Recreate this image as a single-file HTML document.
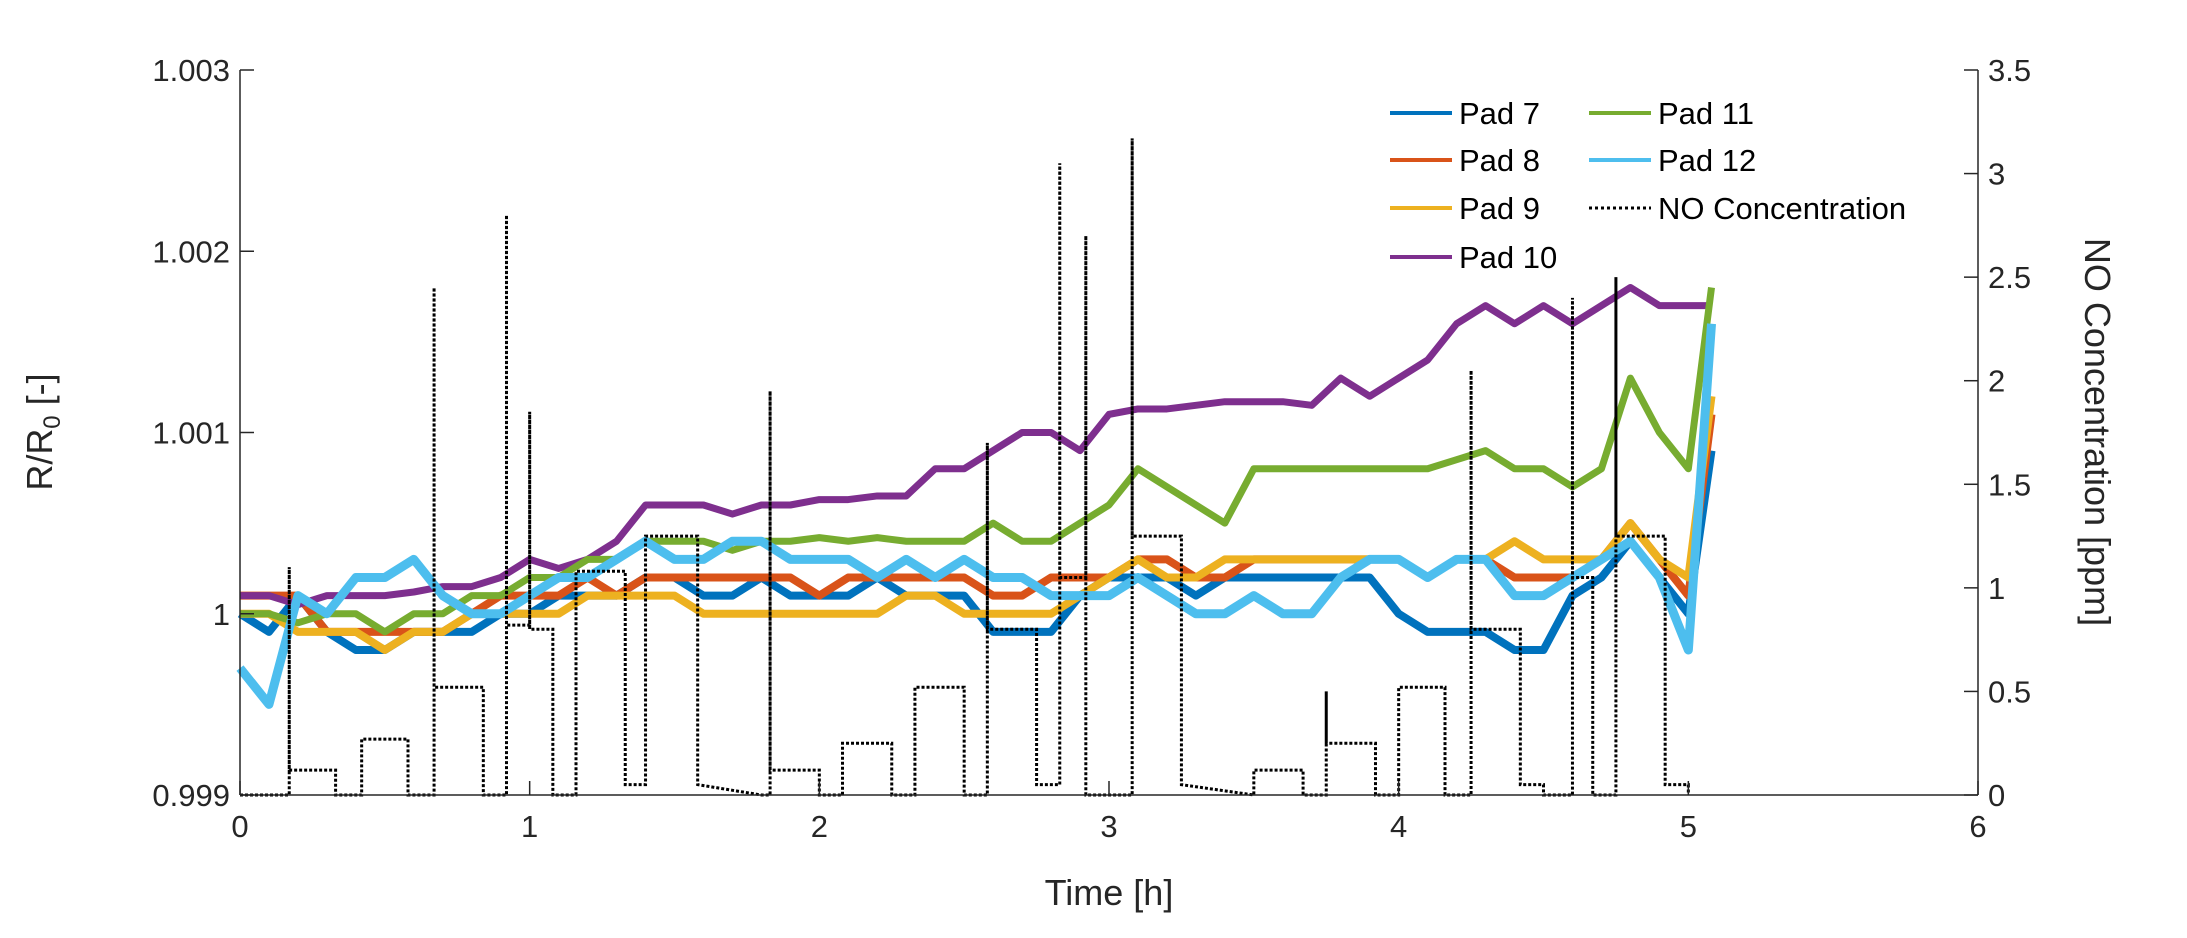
<!DOCTYPE html>
<html><head><meta charset="utf-8"><style>
body{margin:0;background:#fff;}
svg{display:block;font-family:"Liberation Sans",sans-serif;}
</style></head><body>
<svg id="chart" width="2187" height="938" xmlns="http://www.w3.org/2000/svg">
<rect width="2187" height="938" fill="#fff"/>
<g id="series"></g>
<g id="axes"></g>
<g id="legend"></g>
</svg>
<script>
const times=[0,0.1,0.2,0.3,0.4,0.5,0.6,0.7,0.8,0.9,1.0,1.1,1.2,1.3,1.4,1.5,1.6,1.7,1.8,1.9,2.0,2.1,2.2,2.3,2.4,2.5,2.6,2.7,2.8,2.9,3.0,3.1,3.2,3.3,3.4,3.5,3.6,3.7,3.8,3.9,4.0,4.1,4.2,4.3,4.4,4.5,4.6,4.7,4.8,4.9,5.0,5.08];
const pad7=[1.0,0.9999,1.0001,0.9999,0.9998,0.9998,0.9999,0.9999,0.9999,1.0,1.0,1.0001,1.0001,1.0001,1.0002,1.0002,1.0001,1.0001,1.0002,1.0001,1.0001,1.0001,1.0002,1.0001,1.0001,1.0001,0.9999,0.9999,0.9999,1.0001,1.0002,1.0002,1.0002,1.0001,1.0002,1.0002,1.0002,1.0002,1.0002,1.0002,1.0000,0.9999,0.9999,0.9999,0.9998,0.9998,1.0001,1.0002,1.0004,1.0002,1.0000,1.0009];
const pad8=[1.0001,1.0001,1.0001,0.9999,0.9999,0.9999,0.9999,0.9999,1.0,1.0001,1.0001,1.0001,1.0002,1.0001,1.0002,1.0002,1.0002,1.0002,1.0002,1.0002,1.0001,1.0002,1.0002,1.0002,1.0002,1.0002,1.0001,1.0001,1.0002,1.0002,1.0002,1.0003,1.0003,1.0002,1.0002,1.0003,1.0003,1.0003,1.0003,1.0003,1.0003,1.0002,1.0003,1.0003,1.0002,1.0002,1.0002,1.0003,1.0005,1.0003,1.0001,1.0011];
const pad9=[1.0,1.0,0.9999,0.9999,0.9999,0.9998,0.9999,0.9999,1.0,1.0,1.0,1.0,1.0001,1.0001,1.0001,1.0001,1.0,1.0,1.0,1.0,1.0,1.0,1.0,1.0001,1.0001,1.0,1.0,1.0,1.0,1.0001,1.0002,1.0003,1.0002,1.0002,1.0003,1.0003,1.0003,1.0003,1.0003,1.0003,1.0003,1.0002,1.0003,1.0003,1.0004,1.0003,1.0003,1.0003,1.0005,1.0003,1.0002,1.0012];
const pad10=[1.0001,1.0001,1.00005,1.0001,1.0001,1.0001,1.00012,1.00015,1.00015,1.0002,1.0003,1.00025,1.0003,1.0004,1.0006,1.0006,1.0006,1.00055,1.0006,1.0006,1.00063,1.00063,1.00065,1.00065,1.0008,1.0008,1.0009,1.001,1.0010,1.0009,1.0011,1.00113,1.00113,1.00115,1.00117,1.00117,1.00117,1.00115,1.0013,1.0012,1.0013,1.0014,1.0016,1.0017,1.0016,1.0017,1.0016,1.0017,1.0018,1.0017,1.0017,1.0017];
const pad11=[1.0,1.0,0.99995,1.0,1.0,0.9999,1.0,1.0,1.0001,1.0001,1.0002,1.0002,1.0003,1.0003,1.0004,1.0004,1.0004,1.00035,1.0004,1.0004,1.00042,1.0004,1.00042,1.0004,1.0004,1.0004,1.0005,1.0004,1.0004,1.0005,1.0006,1.0008,1.0007,1.0006,1.0005,1.0008,1.0008,1.0008,1.0008,1.0008,1.0008,1.0008,1.00085,1.0009,1.0008,1.0008,1.0007,1.0008,1.0013,1.001,1.0008,1.0018];
const pad12=[0.9997,0.9995,1.0001,1.0,1.0002,1.0002,1.0003,1.0001,1.0,1.0,1.0001,1.0002,1.0002,1.0003,1.0004,1.0003,1.0003,1.0004,1.0004,1.0003,1.0003,1.0003,1.0002,1.0003,1.0002,1.0003,1.0002,1.0002,1.0001,1.0001,1.0001,1.0002,1.0001,1.0,1.0,1.0001,1.0,1.0,1.0002,1.0003,1.0003,1.0002,1.0003,1.0003,1.0001,1.0001,1.0002,1.0003,1.0004,1.0002,0.9998,1.0016];
const noTimes=[0,0.17,0.17,0.17,0.33,0.33,0.42,0.42,0.58,0.58,0.67,0.67,0.67,0.84,0.84,0.92,0.92,0.92,1.0,1.0,1.0,1.08,1.08,1.16,1.16,1.33,1.33,1.4,1.4,1.58,1.58,1.8,1.83,1.83,1.83,2.0,2.0,2.08,2.08,2.25,2.25,2.33,2.33,2.5,2.5,2.58,2.58,2.58,2.75,2.75,2.83,2.83,2.83,2.92,2.92,2.92,3.08,3.08,3.08,3.25,3.25,3.5,3.5,3.67,3.67,3.75,3.75,3.75,3.92,3.92,4.0,4.0,4.16,4.16,4.25,4.25,4.25,4.42,4.42,4.5,4.5,4.6,4.6,4.6,4.67,4.67,4.75,4.75,4.75,4.92,4.92,5.0,5.0];
const noValues=[0,0,1.1,0.12,0.12,0,0,0.27,0.27,0,0,2.45,0.52,0.52,0,0,2.8,0.82,0.82,1.85,0.8,0.8,0,0,1.08,1.08,0.05,0.05,1.25,1.25,0.05,0,0,1.95,0.12,0.12,0,0,0.25,0.25,0,0,0.52,0.52,0,0,1.7,0.8,0.8,0.05,0.05,3.05,1.05,1.05,2.7,0,0,3.17,1.25,1.25,0.05,0,0.12,0.12,0,0,0.5,0.25,0.25,0,0,0.52,0.52,0,0,2.05,0.8,0.8,0.05,0.05,0,0,2.4,1.05,1.05,0,0,2.5,1.25,1.25,0.05,0.05,0];
const xTicks=[0,1,2,3,4,5,6];
const yLeftTicks=[0.999,1,1.001,1.002,1.003];
const yLeftLabels=["0.999","1","1.001","1.002","1.003"];
const yRightTicks=[0,0.5,1,1.5,2,2.5,3,3.5];
const yRightLabels=["0","0.5","1","1.5","2","2.5","3","3.5"];

const L=240,R=1978,T=70,B=795;
const x=t=>L+(t-0)/6*(R-L);
const yl=v=>B-(v-0.999)/0.004*(B-T);
const yr=v=>B-v/3.5*(B-T);
const NS="http://www.w3.org/2000/svg";
function mk(tag,parent){const e=document.createElementNS(NS,tag);parent.appendChild(e);return e;}
const sg=document.getElementById('series'),ag=document.getElementById('axes'),lg=document.getElementById('legend');

const series=[["pad-7",pad7,"#0072BD",8],["pad-8",pad8,"#D95319",8],["pad-9",pad9,"#EDB120",8],["pad-10",pad10,"#7E2F8E",7],["pad-11",pad11,"#77AC30",7],["pad-12",pad12,"#4DBEEE",9]];
series.forEach(s=>{
  const p=mk('polyline',sg);
  
  
  p.setAttribute('points',s[1].map((v,i)=>x(times[i])+','+yl(v)).join(' '));
  p.setAttribute('fill','none');p.setAttribute('stroke',s[2]);p.setAttribute('stroke-width',s[3]);p.setAttribute('stroke-linejoin','round');
});
const np=mk('polyline',sg);


np.setAttribute('points',noValues.map((v,i)=>x(noTimes[i])+','+yr(v)).join(' '));
np.setAttribute('fill','none');np.setAttribute('stroke','#000');np.setAttribute('stroke-width','3');np.setAttribute('stroke-dasharray','3,2');

function line(x1,y1,x2,y2,name){const l=mk('line',ag);l.setAttribute('x1',x1);l.setAttribute('y1',y1);l.setAttribute('x2',x2);l.setAttribute('y2',y2);l.setAttribute('stroke','#262626');l.setAttribute('stroke-width','1.5');

return l;}
function text(tx,px,py,anchor,size,name){const e=mk('text',ag);e.textContent=tx;e.setAttribute('x',px);e.setAttribute('y',py);e.setAttribute('text-anchor',anchor);e.setAttribute('font-size',size);e.setAttribute('fill','#262626');

return e;}
line(L,T,L,B,'left-y-axis');line(R,T,R,B,'right-y-axis');line(L,B,R,B,'x-axis');
xTicks.forEach(t=>{line(x(t),B,x(t),B-14,'x-tick');text(String(t),x(t),B+42,'middle',31,'x-tick-label');});
yLeftTicks.forEach((v,i)=>{line(L,yl(v),L+14,yl(v),'left-y-tick');text(yLeftLabels[i],L-10,yl(v)+11,'end',31,'left-y-tick-label');});
yRightTicks.forEach((v,i)=>{line(R,yr(v),R-14,yr(v),'right-y-tick');text(yRightLabels[i],R+10,yr(v)+11,'start',31,'right-y-tick-label');});
text('Time [h]',1109,905,'middle',36,'x-axis-title');
const lt=text('',0,0,'middle',36,'left-y-axis-title');lt.setAttribute('transform','translate(52,432) rotate(-90)');
lt.innerHTML='R/R<tspan font-size="24" dy="8">0</tspan><tspan dy="-8"> [-]</tspan>';
const rt=text('NO Concentration [ppm]',0,0,'middle',36,'right-y-axis-title');rt.setAttribute('transform','translate(2085,432) rotate(90)');

const leg=[["Pad 7","#0072BD",1390,113,0],["Pad 8","#D95319",1390,160,0],["Pad 9","#EDB120",1390,208,0],["Pad 10","#7E2F8E",1390,257,0],["Pad 11","#77AC30",1589,113,0],["Pad 12","#4DBEEE",1589,160,0],["NO Concentration","#000",1589,208,1]];
leg.forEach(e=>{
  const g=mk('g',lg);
  
  
  const l=mk('line',g);l.setAttribute('x1',e[2]);l.setAttribute('x2',e[2]+62);l.setAttribute('y1',e[3]);l.setAttribute('y2',e[3]);l.setAttribute('stroke',e[1]);l.setAttribute('stroke-width',e[4]?3:4);if(e[4])l.setAttribute('stroke-dasharray','3,3');
  const t=mk('text',g);t.textContent=e[0];t.setAttribute('x',e[2]+69);t.setAttribute('y',e[3]+11);t.setAttribute('font-size','31');t.setAttribute('fill','#000');
});
</script>
</body></html>
